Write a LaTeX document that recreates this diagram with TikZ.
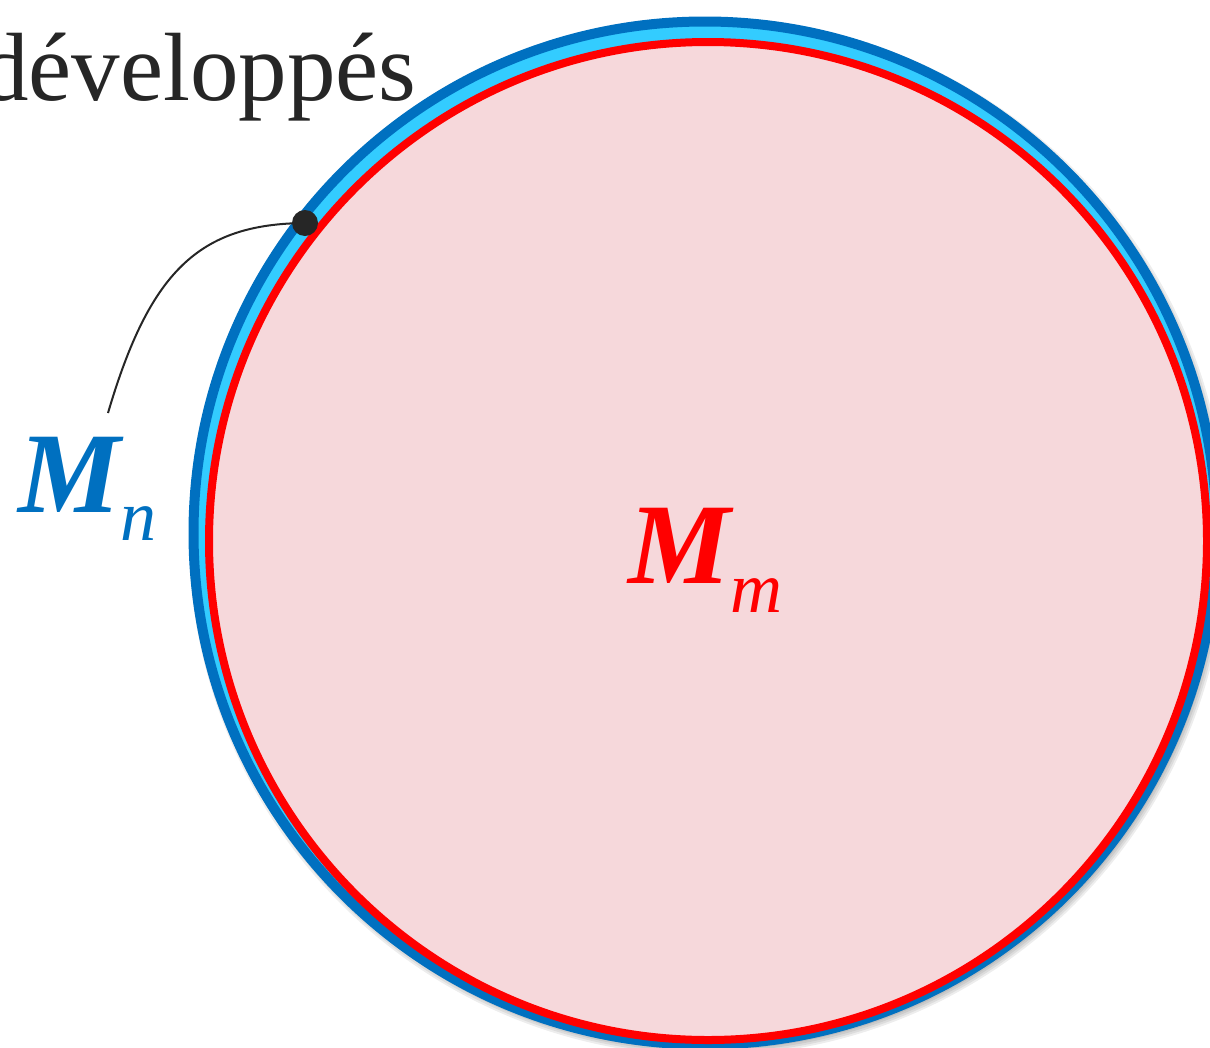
\documentclass[tikz,border=0pt]{standalone}
\usepackage{fontspec}
\setmainfont{Liberation Serif}
\definecolor{bordblue}{HTML}{0070C0}
\definecolor{ringcyan}{HTML}{33CCFF}
\definecolor{pinkfill}{HTML}{F6D8DB}
\definecolor{darktext}{HTML}{262626}
\begin{document}
\begin{tikzpicture}[x=1pt,y=-1pt,
  outerdisk/.style={circle, draw=bordblue, fill=ringcyan, line width=10pt, inner sep=0pt, minimum size=1023pt},
  innerdisk/.style={circle, draw=red, fill=pinkfill, line width=8pt, inner sep=0pt, minimum size=998pt},
  shadowdisk/.style={fill=black, fill opacity=0.07},
  marker/.style={circle, fill=darktext, inner sep=0pt, minimum size=26pt},
  leader/.style={draw=darktext, line width=2pt},
  lbl/.style={inner sep=0pt, anchor=base west}]
\useasboundingbox (0,0) rectangle (1210,1047);
\foreach \r in {513,515,517,519}{\fill[shadowdisk] (708,537) circle (\r);}
\node[outerdisk] (outer) at (705,533) {};
\node[innerdisk] (inner) at (708,541) {};
\node[lbl, text=darktext, font=\fontsize{97}{100}\selectfont] (title) at (-20,100) {développés};
\node[lbl, text=bordblue] (mn) at (18,512) {{\fontsize{115}{115}\selectfont\bfseries\itshape M}\raisebox{-28pt}{\fontsize{72}{72}\selectfont\itshape n}};
\node[lbl, text=red] (mm) at (628,583) {{\fontsize{115}{115}\selectfont\bfseries\itshape M}\raisebox{-29pt}{\fontsize{72}{72}\selectfont\itshape m}};
\coordinate (mnend) at (108,413);
\draw[leader] (305,223) coordinate (dotc) .. controls (200,224) and (150,270) .. (mnend);
\node[marker] (dot) at (dotc) {};
\end{tikzpicture}
\end{document}
